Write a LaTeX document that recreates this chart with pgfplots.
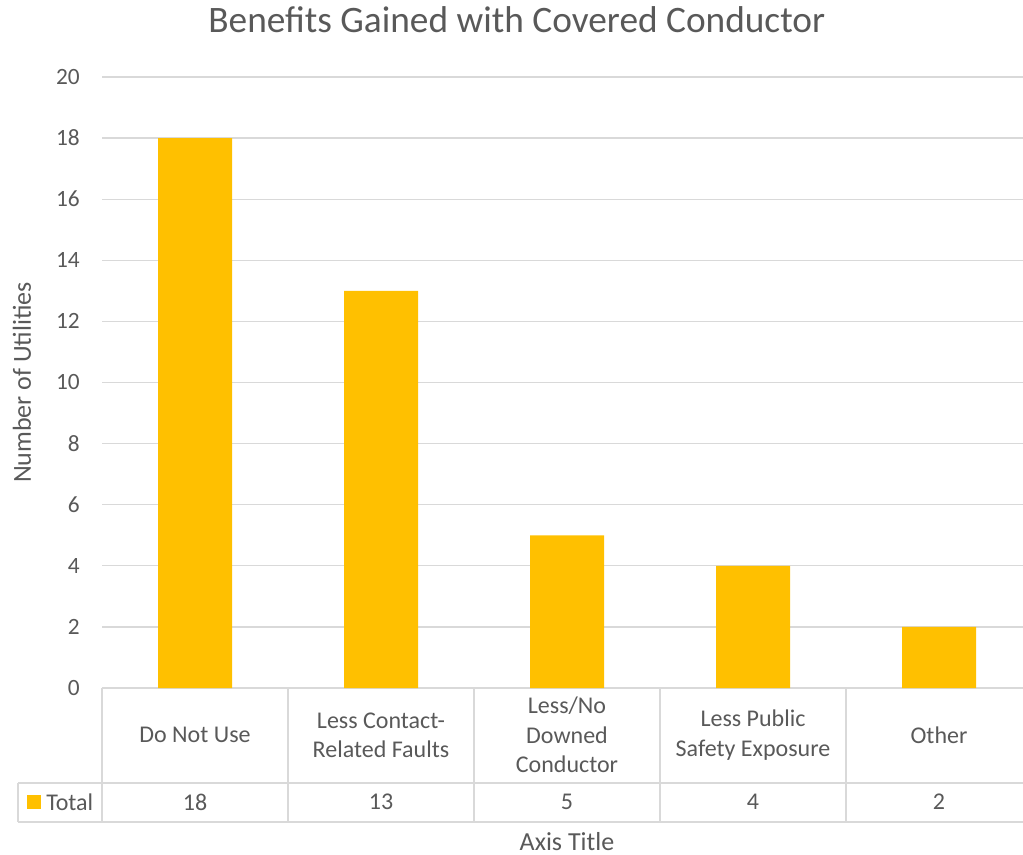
\documentclass[border=0pt]{standalone}
\usepackage{fontspec}
\setmainfont{Carlito}
\usepackage{pgfplots}
\pgfplotsset{compat=1.18}
\definecolor{barc}{HTML}{FFC000}
\definecolor{gridc}{HTML}{D9D9D9}
\definecolor{txt}{HTML}{595959}
\begin{document}
\begin{tikzpicture}
\begin{axis}[
  at={(76.5pt,-516pt)}, anchor=south west,
  scale only axis, width=697.5pt, height=458.25pt,
  xmin=-0.5, xmax=4.5, ymin=0, ymax=20,
  clip=false,
  axis lines*=left, axis line style={draw=none},
  major tick length=0pt,
  ytick={0,2,...,20},
  ymajorgrids=true,
  grid style={gridc, line width=1pt},
  /pgf/number format/assume math mode=true,
  yticklabel style={anchor=east, xshift=-16.5pt, inner sep=0pt, font=\fontsize{17.5}{20}\selectfont, text=txt},
  xtick={0,1,2,3,4},
  xticklabels={{Do Not Use},{Less Contact-\\Related Faults},{Less/No\\Downed\\Conductor},{Less Public\\Safety Exposure},{Other}},
  xticklabel style={anchor=center, yshift=-35.25pt, inner sep=0pt, align=center, font=\fontsize{18}{22}\selectfont, text=txt},
  ylabel={Number of Utilities},
  every axis y label/.style={at={(axis description cs:-0.086,0.5)}, rotate=90, anchor=center, font=\fontsize{19.5}{22}\selectfont, text=txt},
  xlabel={Axis Title},
  every axis x label/.style={at={(axis description cs:0.5,-0.2652)}, anchor=base, inner sep=0pt, font=\fontsize{19.5}{22}\selectfont, text=txt},
  title={Benefits Gained with Covered Conductor},
  every axis title/.style={at={(axis description cs:0.446,1.0933)}, anchor=center, font=\fontsize{28}{32}\selectfont, text=txt},
]
\addplot[ybar, bar width=55.5pt, fill=barc, draw=none] coordinates {(0,18) (1,13) (2,5) (3,4) (4,2)};
\addplot[draw=none, mark=none, nodes near coords, point meta=explicit symbolic,
  every node near coord/.append style={anchor=center, inner sep=0pt, font=\fontsize{18}{20}\selectfont, text=txt}]
  coordinates {(0,-3.73) [18] (1,-3.73) [13] (2,-3.73) [5] (3,-3.73) [4] (4,-3.73) [2]};
\end{axis}
% data table grid
\begin{scope}[gridc, line width=1pt]
\foreach \x in {76.5,216,355.5,495,634.5,774} \draw (\x pt,-516pt) -- (\x pt,-616.5pt);
\draw (13.5pt,-587.25pt) -- (774pt,-587.25pt);
\draw (13.5pt,-616.5pt) -- (774pt,-616.5pt);
\draw (13.5pt,-587.25pt) -- (13.5pt,-616.5pt);
\end{scope}
\fill[barc] (20.25pt,-596.25pt) rectangle (30.75pt,-606.75pt);
\node[anchor=west, inner sep=0pt, text=txt, font=\fontsize{18}{20}\selectfont] at (34.5pt,-601.5pt) {Total};
\pgfresetboundingbox
\useasboundingbox (0pt,0pt) rectangle (767.25pt,-641.25pt);
\end{tikzpicture}
\end{document}
